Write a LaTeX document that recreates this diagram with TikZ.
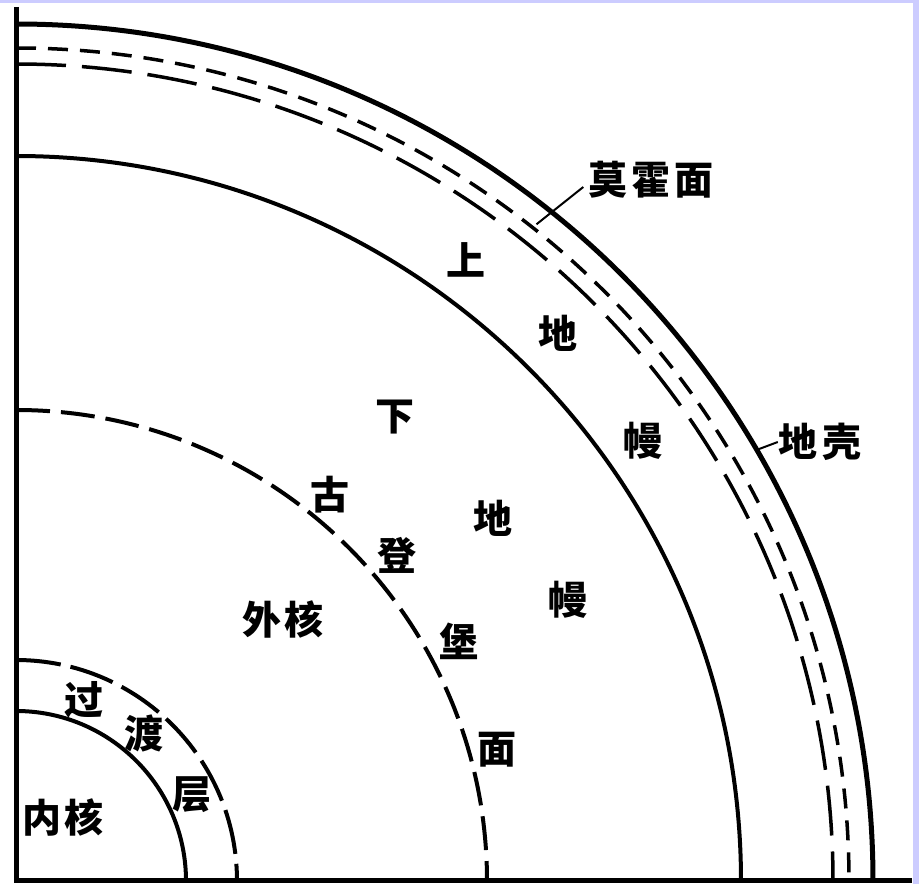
\documentclass[tikz,border=0pt]{standalone}
\usepackage{fontspec}
\newfontfamily\cjk{Noto Sans CJK SC}
\definecolor{framecol}{RGB}{204,204,255}
\newcommand{\gapA}{\hspace{4pt}}
\tikzset{
  lbl/.style={font=\cjk\bfseries\fontsize{39}{39}\selectfont, inner sep=0pt, anchor=center},
  axisline/.style={line width=5pt, line cap=butt},
  surface/.style={line width=5pt},
  mohoA/.style={line width=3.5pt, dash pattern=on 20pt off 12pt},
  mohoB/.style={line width=3.5pt, dash pattern=on 50pt off 16pt},
  mantleline/.style={line width=4pt},
  gutenberg/.style={line width=4pt, dash pattern=on 34pt off 11pt},
  transition/.style={line width=4pt, dash pattern=on 45pt off 10pt},
  innercore/.style={line width=4pt},
  leader/.style={line width=2pt}
}
\begin{document}
\begin{tikzpicture}[x=1pt,y=1pt]
  % page frame
  \fill[framecol] (0,0) rectangle (919,884);
  \fill[white] (0,0) rectangle (913,881);
  \useasboundingbox (0,0) rectangle (919,884);

  \coordinate (O) at (16,3);

  % axes
  \draw[axisline] (16,877) -- (O) -- (912,3);

  % layer boundaries (quarter circles about the centre)
  \draw[surface]    (O) ++(90:857) arc[start angle=90, end angle=0, radius=857];
  \draw[mohoA]      (O) ++(90:833) arc[start angle=90, end angle=0, radius=833];
  \draw[mohoB]      (O) ++(90:817) arc[start angle=90, end angle=0, radius=817];
  \draw[mantleline] (O) ++(90:725) arc[start angle=90, end angle=0, radius=725];
  \draw[gutenberg]  (O) ++(90:471) arc[start angle=90, end angle=0, radius=471];
  \draw[transition] (O) ++(90:221) arc[start angle=90, end angle=0, radius=221];
  \draw[innercore]  (O) ++(90:170) arc[start angle=90, end angle=0, radius=170];

  % labels
  \node[lbl] (moho)  at (651,704) {莫\gapA 霍\gapA 面};
  \node[lbl] (crust) at (820,442) {地\gapA\hspace{2pt}壳};

  \node[lbl] (um1) at (466,624) {上};
  \node[lbl] (um2) at (558,551) {地};
  \node[lbl] (um3) at (643,443) {幔};

  \node[lbl] (lm1) at (395,467) {下};
  \node[lbl] (lm2) at (493,366) {地};
  \node[lbl] (lm3) at (568,284) {幔};

  \node[lbl] (gb1) at (330,389) {古};
  \node[lbl] (gb2) at (397,329) {登};
  \node[lbl] (gb3) at (459,243) {堡};
  \node[lbl] (gb4) at (497,134) {面};

  \node[lbl] (outer) at (283,265) {外\gapA 核};

  \node[lbl] (tr1) at (84,184) {过};
  \node[lbl] (tr2) at (144,151) {渡};
  \node[lbl] (tr3) at (192,89)  {层};

  \node[lbl] (inner) at (63,67) {内\gapA 核};

  % leader lines
  \path (O) ++(51.6:838) coordinate (mohoEnd);
  \path (O) ++(30.2:857) coordinate (crustEnd);
  \draw[leader] ([xshift=-5pt,yshift=-7pt]moho.west) -- (mohoEnd);
  \draw[leader] (crust.west) -- (crustEnd);
\end{tikzpicture}
\end{document}
